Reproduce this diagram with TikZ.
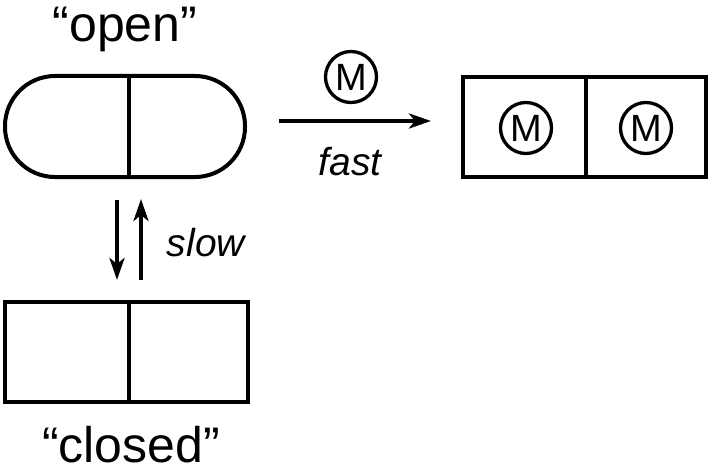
\documentclass[tikz,border=0pt]{standalone}
\usepackage{fontspec}
\setmainfont{Liberation Sans}
\usepackage{tikz}
\usetikzlibrary{arrows.meta, positioning}

\begin{document}
\begin{tikzpicture}[
    x=1pt, y=-1pt,
    cell/.style={draw, line width=4pt, minimum width=243pt,
                 minimum height=100pt, inner sep=0pt},
    pill/.style={cell, minimum width=240pt, minimum height=101pt,
                 rounded corners=50pt},
    ligand/.style={draw, circle, line width=3.3pt, minimum size=51pt,
                   inner sep=0pt, font=\fontsize{38}{42}\selectfont},
    state/.style={font=\fontsize{50}{60}\selectfont, anchor=base,
                  text depth=0pt, inner sep=0pt},
    rate/.style={font=\fontsize{39}{46}\selectfont\itshape},
    arrow/.style={-{Stealth[length=22pt, width=15pt, inset=6pt]},
                  line width=3.8pt},
]
\useasboundingbox (0,0) rectangle (711,473);

% Open channel
\node[pill] (opn) at (125,126.5) {};
\draw[line width=4pt] (129,76) -- (129,177);
\node[state] (opntxt) at (125,42) {“open”};

% Closed channel
\node[cell] (cls) at (126.5,352) {};
\draw[line width=4pt] (cls.north) ++(2.5,0) -- ++(0,100);
\node[state] (clstxt) at (131,462) {“closed”};

% Bound state
\node[cell] (bnd) at (584.5,127) {};
\draw[line width=4pt] (bnd.north) ++(1.5,0) -- ++(0,100);
\node[ligand] (m1) at (526,128) {M};
\node[ligand] (m2) at (646,128) {M};

% Binding
\coordinate (fa) at (279,121);
\coordinate (fb) at (431,121);
\draw[arrow] (fa) -- (fb);
\node[ligand] (mfree) at (351,77) {M};
\node[rate] (fast) at (350,162) {fast};

% Gating
\coordinate (da) at (117,200);
\coordinate (db) at (117,280);
\coordinate (ua) at (141,280);
\coordinate (ub) at (141,199);
\draw[arrow] (da) -- (db);
\draw[arrow] (ua) -- (ub);
\node[rate] (slow) at (206,243) {slow};
\end{tikzpicture}
\end{document}
